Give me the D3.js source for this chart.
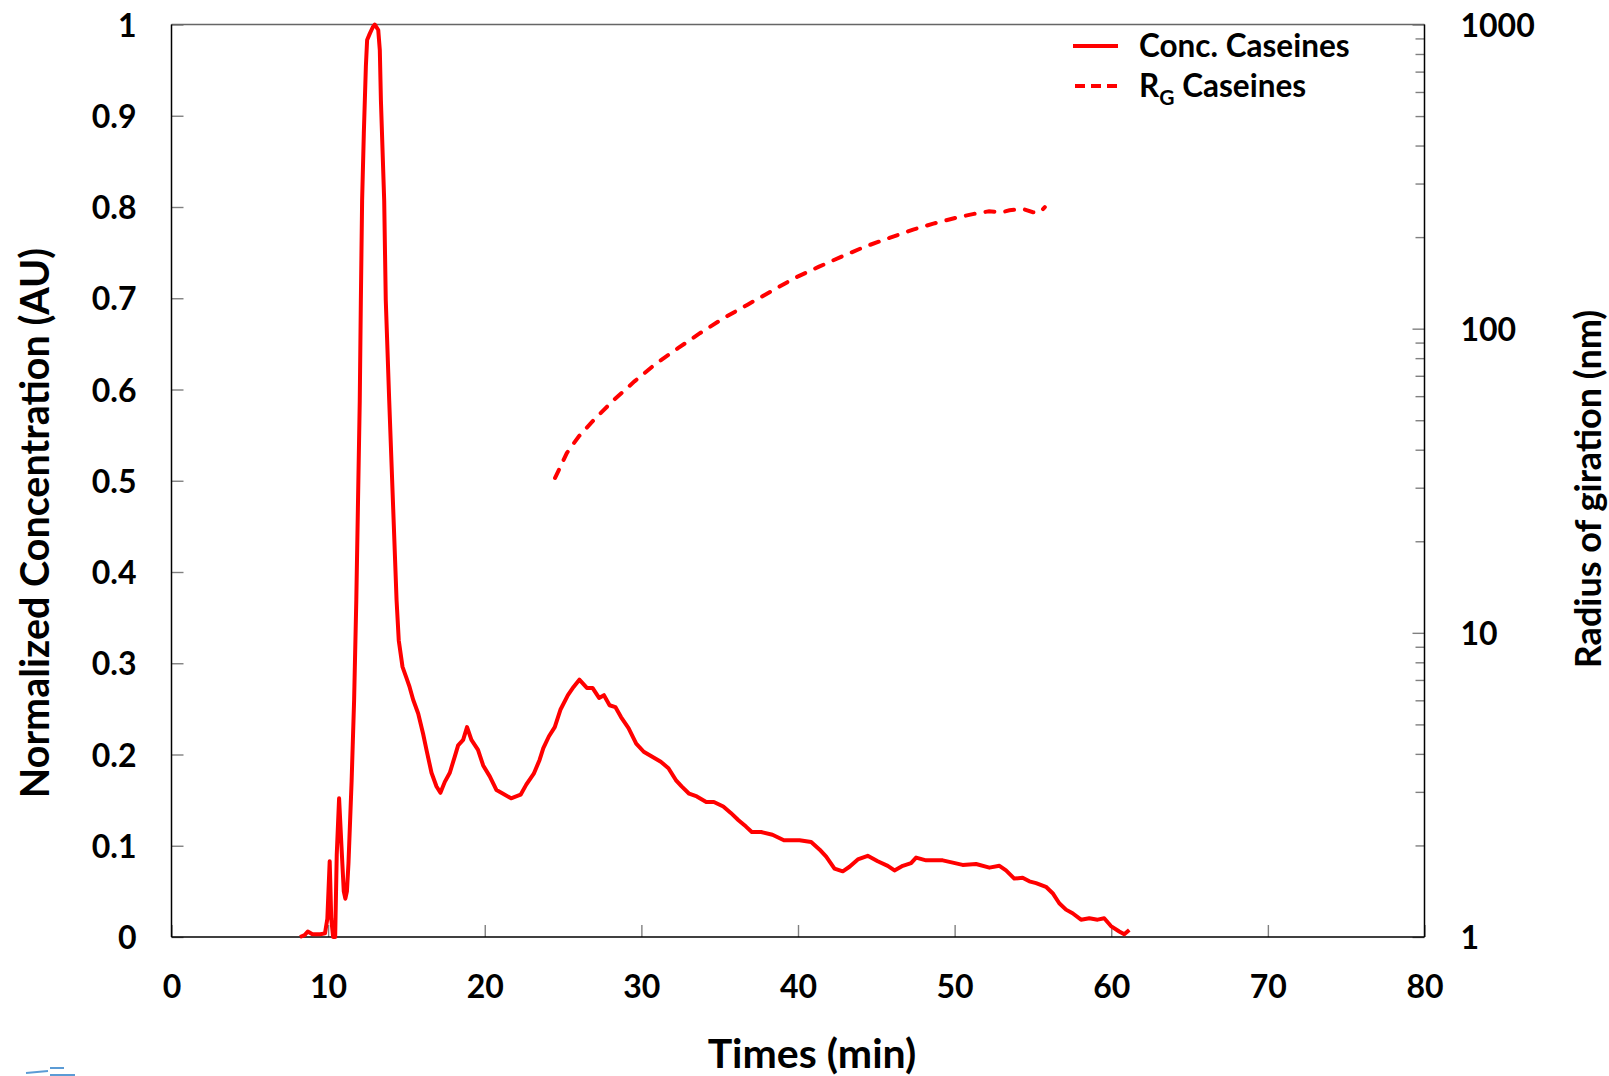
<!DOCTYPE html>
<html>
<head>
<meta charset="utf-8">
<script src="https://cdn.jsdelivr.net/npm/d3@7"></script>
<style>
  body { margin: 0; background: #fff; }
  svg { display: block; font-family: Lato, "Open Sans", sans-serif; font-weight: bold; }
</style>
</head>
<body>
<svg width="1609" height="1076"></svg>
<script>
// concentration trace (time in min, normalized conc.)
var concTime = [8.2, 8.5, 8.7, 9.0, 9.5, 9.8, 9.95, 10.1, 10.2, 10.32, 10.45, 10.55, 10.7, 10.85, 11.0, 11.1, 11.2, 11.3, 11.5, 11.66,
  11.8, 12.02, 12.09, 12.17, 12.28, 12.41, 12.49, 12.66, 12.85, 12.98, 13.2, 13.3, 13.37, 13.58, 13.68, 13.9, 14.37, 14.51, 14.75, 15.0,
  15.2, 15.43, 15.75, 16.06, 16.28, 16.6, 16.92, 17.17, 17.45, 17.77, 18.09, 18.3, 18.62, 18.87, 19.15, 19.57, 19.9, 20.32, 20.75, 21.17,
  21.68, 22.29, 22.65, 23.13, 23.5, 23.74, 24.1, 24.47, 24.83, 25.31, 25.67, 26.04, 26.52, 26.88, 27.3, 27.61, 27.97, 28.34, 28.7, 29.18,
  29.67, 30.15, 30.64, 31.24, 31.73, 32.2, 32.57, 33.05, 33.54, 34.14, 34.63, 35.23, 35.71, 36.2, 36.68, 37.05, 37.65, 38.37, 39.1, 40.1,
  40.84, 41.37, 41.8, 42.33, 42.86, 43.29, 43.82, 44.45, 45.09, 45.73, 46.16, 46.69, 47.22, 47.54, 48.18, 48.71, 49.24, 49.88, 50.51, 51.37,
  52.22, 52.86, 53.28, 53.81, 54.34, 54.77, 55.2, 55.83, 56.26, 56.68, 57.11, 57.53, 58.07, 58.6, 59.13, 59.55, 59.98, 60.51, 60.83, 61.15];
var concValue = [0, 0.002, 0.006, 0.003, 0.003, 0.004, 0.02, 0.083, 0.02, 0.0, 0.0, 0.09, 0.152, 0.1, 0.05, 0.042, 0.05, 0.081, 0.171, 0.26,
  0.37, 0.588, 0.698, 0.807, 0.881, 0.954, 0.983, 0.99, 0.997, 1.0, 0.994, 0.972, 0.917, 0.807, 0.698, 0.588, 0.369, 0.325, 0.296, 0.284,
  0.274, 0.26, 0.245, 0.223, 0.205, 0.18, 0.165, 0.158, 0.17, 0.18, 0.198, 0.21, 0.216, 0.23, 0.216, 0.205, 0.188, 0.176, 0.161, 0.157,
  0.152, 0.156, 0.167, 0.179, 0.194, 0.207, 0.22, 0.23, 0.249, 0.265, 0.274, 0.282, 0.273, 0.273, 0.262, 0.265, 0.254, 0.252, 0.241, 0.229,
  0.212, 0.203, 0.198, 0.192, 0.185, 0.172, 0.165, 0.157, 0.154, 0.148, 0.148, 0.143, 0.136, 0.128, 0.121, 0.115, 0.115, 0.112, 0.106, 0.106,
  0.104, 0.096, 0.088, 0.075, 0.072, 0.077, 0.085, 0.089, 0.083, 0.078, 0.073, 0.078, 0.081, 0.087, 0.084, 0.084, 0.084, 0.0815, 0.079, 0.08,
  0.076, 0.078, 0.073, 0.064, 0.065, 0.061, 0.059, 0.055, 0.048, 0.037, 0.030, 0.026, 0.019, 0.0205, 0.019, 0.0205, 0.012, 0.006, 0.003, 0.0077];

// radius of gyration trace (nm, log axis)
var rgTime = [24.49, 25.24, 26.0, 27.07, 28.26, 29.56, 30.85, 32.36, 33.76, 35.27, 36.78, 38.29, 39.8, 41.31, 42.82, 44.33, 45.84, 47.35,
  48.64, 50.05, 51.23, 52.2, 52.96, 53.5, 54.36, 55.0, 55.44, 55.76];
var rgValue = [32.3, 39, 44.2, 50.8, 58.4, 67.1, 76.2, 86.4, 96.8, 108.4, 119.9, 132.7, 146.8, 159.6, 172.9, 186.5, 198.8, 211.7,
  221.4, 231.3, 238.5, 243.2, 241, 245, 247.6, 241.4, 241, 251];

var xTicks = [0, 10, 20, 30, 40, 50, 60, 70, 80];
var leftTicks = [0, 0.1, 0.2, 0.3, 0.4, 0.5, 0.6, 0.7, 0.8, 0.9, 1];
var rightTicks = [1, 10, 100, 1000];
var rightMinor = [2, 3, 4, 5, 6, 7, 8, 9, 20, 30, 40, 50, 60, 70, 80, 90, 200, 300, 400, 500, 600, 700, 800, 900];

var plot = {left: 171.5, right: 1424.5, top: 24.5, bottom: 937};
var red = "#ff0000";
var tickGray = "#808080";

var svg = d3.select("svg");

var xScale = d3.scaleLinear().domain([0, 80]).range([plot.left, plot.right]);
var yScale = d3.scaleLinear().domain([0, 1]).range([plot.bottom, plot.top]);
var rScale = d3.scaleLog().domain([1, 1000]).range([plot.bottom, plot.top]);

// axes, ticks drawn inward
var xAxis = svg.append("g")
  .attr("transform", "translate(0," + plot.bottom + ")")
  .call(d3.axisBottom(xScale).tickValues(xTicks).tickSize(-12).tickFormat(d3.format("d")));
xAxis.selectAll("text").attr("y", 49).attr("dy", "0.36em");

var yAxis = svg.append("g")
  .attr("transform", "translate(" + plot.left + ",0)")
  .call(d3.axisLeft(yScale).tickValues(leftTicks).tickSize(-12).tickPadding(35).tickFormat(function(d) { return d; }));
yAxis.selectAll("text").attr("dy", "0.36em");

var rMinor = svg.append("g")
  .attr("transform", "translate(" + plot.right + ",0)")
  .call(d3.axisRight(rScale).tickValues(rightMinor).tickSize(-9).tickFormat(""));

var rAxis = svg.append("g")
  .attr("transform", "translate(" + plot.right + ",0)")
  .call(d3.axisRight(rScale).tickValues(rightTicks).tickSize(-12).tickPadding(36).tickFormat(d3.format("d")));
rAxis.selectAll("text").attr("dy", "0.36em");

svg.selectAll(".domain").remove();
svg.selectAll(".tick line").attr("stroke", tickGray).attr("stroke-width", 1.4);
svg.selectAll(".tick text")
  .attr("fill", "#000")
  .style("font-size", "32px")
  .style("font-family", "Lato, 'Open Sans', sans-serif")
  .style("font-weight", "bold");

// frame
var frame = svg.append("g").attr("fill", "none");
frame.append("line").attr("x1", plot.left).attr("x2", plot.right).attr("y1", plot.top).attr("y2", plot.top)
  .attr("stroke", "#666").attr("stroke-width", 1.5);
frame.append("line").attr("x1", plot.left).attr("x2", plot.left).attr("y1", plot.top).attr("y2", plot.bottom)
  .attr("stroke", "#000").attr("stroke-width", 1.5);
frame.append("line").attr("x1", plot.right).attr("x2", plot.right).attr("y1", plot.top).attr("y2", plot.bottom)
  .attr("stroke", "#000").attr("stroke-width", 1.5);
frame.append("line").attr("x1", plot.left).attr("x2", plot.right).attr("y1", plot.bottom).attr("y2", plot.bottom)
  .attr("stroke", "#000").attr("stroke-width", 1.5);

// lines
var concLine = d3.line()
  .x(function(d, i) { return xScale(concTime[i]); })
  .y(function(d) { return yScale(d); });

svg.append("path")
  .datum(concValue)
  .attr("d", concLine)
  .attr("fill", "none")
  .attr("stroke", red)
  .attr("stroke-width", 4)
  .attr("stroke-linejoin", "round");

var rgLine = d3.line()
  .x(function(d, i) { return xScale(rgTime[i]); })
  .y(function(d) { return rScale(d); });

svg.append("path")
  .datum(rgValue)
  .attr("d", rgLine)
  .attr("fill", "none")
  .attr("stroke", red)
  .attr("stroke-width", 4)
  .attr("stroke-linecap", "round")
  .attr("stroke-dasharray", "9,11");

// axis titles
svg.append("text")
  .attr("x", 812).attr("y", 1053).attr("dy", "0.36em")
  .attr("text-anchor", "middle")
  .style("font-size", "41px")
  .text("Times (min)");

svg.append("text")
  .attr("transform", "translate(35,523) rotate(-90)")
  .attr("dy", "0.36em")
  .attr("text-anchor", "middle")
  .style("font-size", "39.5px")
  .text("Normalized Concentration (AU)");

svg.append("text")
  .attr("transform", "translate(1588,489) rotate(-90)")
  .attr("dy", "0.36em")
  .attr("text-anchor", "middle")
  .style("font-size", "36px")
  .text("Radius of giration (nm)");

// legend
var legend = svg.append("g");
legend.append("line").attr("x1", 1073).attr("x2", 1118).attr("y1", 46).attr("y2", 46)
  .attr("stroke", red).attr("stroke-width", 4);
legend.append("line").attr("x1", 1075).attr("x2", 1118).attr("y1", 86).attr("y2", 86)
  .attr("stroke", red).attr("stroke-width", 4).attr("stroke-dasharray", "10,6");
legend.append("text").attr("x", 1139).attr("y", 46).attr("dy", "0.36em")
  .style("font-size", "31.5px").text("Conc. Caseines");
var rgLabel = legend.append("text").attr("x", 1139).attr("y", 86).attr("dy", "0.36em")
  .style("font-size", "31.5px");
rgLabel.append("tspan").text("R");
rgLabel.append("tspan").attr("dy", "8").style("font-size", "21px").text("G");
rgLabel.append("tspan").attr("dy", "-8").text(" Caseines");

// small blue fragment at the bottom-left corner of the original image
svg.append("g").attr("stroke", "#5b9bd5").attr("stroke-width", 2).attr("fill", "none")
  .selectAll("line")
  .data([[26, 1073, 48, 1071], [50, 1068, 64, 1068], [50, 1075, 75, 1075]])
  .enter().append("line")
  .attr("x1", function(d) { return d[0]; }).attr("y1", function(d) { return d[1]; })
  .attr("x2", function(d) { return d[2]; }).attr("y2", function(d) { return d[3]; });
</script>
</body>
</html>
